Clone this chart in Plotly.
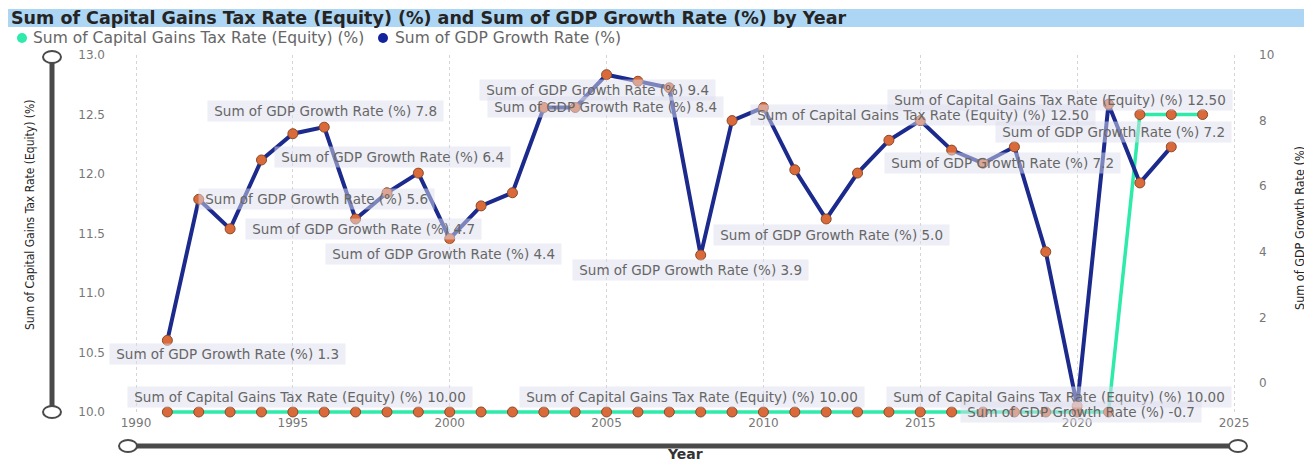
import plotly.graph_objects as go

# ---------------- data ----------------
years_gdp = list(range(1991, 2024))
gdp_growth = [1.3, 5.6, 4.7, 6.8, 7.6, 7.8, 5.0, 5.8, 6.4, 4.4,
              5.4, 5.8, 8.4, 8.4, 9.4, 9.2, 9.0, 3.9, 8.0, 8.4,
              6.5, 5.0, 6.4, 7.4, 8.0, 7.1, 6.7, 7.2, 4.0, -0.7,
              8.5, 6.1, 7.2]
years_cg = list(range(1991, 2025))
cg_tax = [10.0] * 31 + [12.5, 12.5, 12.5]

# label specs: (series, year, dx, dy)  -- dx/dy are pixel offsets (style)
label_specs = [
    ("gdp", 1996, 1, 16), ("gdp", 1999, -26, 16), ("gdp", 1992, 118, 0),
    ("gdp", 1993, 133, 0), ("gdp", 2000, -6, -15), ("gdp", 1991, 60, -14),
    ("gdp", 2005, -9, -15), ("gdp", 2004, 30, 0), ("gdp", 2008, -10, -15),
    ("gdp", 2012, 5, -16), ("cg", 2022, -217, 0), ("cg", 2023, -111, 15),
    ("gdp", 2023, -58, 15), ("gdp", 2018, -12, -16), ("cg", 1991, 133, 15),
    ("cg", 2008, -9, 15), ("cg", 2020, -18, 15), ("gdp", 2020, 4, -6),
]

CG_NAME = "Sum of Capital Gains Tax Rate (Equity) (%)"
GDP_NAME = "Sum of GDP Growth Rate (%)"

# ---------------- geometry (reference-page pixels) ----------------
OFF = 8                     # html body margin
W, H = 1312 - OFF, 461 - OFF
L, R, T, B = 120, 1250, 55, 414
def px(xp):
    return (xp - L) / (R - L)
def py(yp):
    return (B - yp) / (B - T)

FONT = "DejaVu Sans, Verdana, sans-serif"
NARROW = "Liberation Sans Narrow, Arial Narrow, DejaVu Sans Condensed, sans-serif"

fig = go.Figure()

marker = dict(size=10, color="#DA6A3A", line=dict(color="#8A4A2A", width=1))

fig.add_trace(go.Scatter(
    x=years_gdp, y=gdp_growth, yaxis="y2", mode="lines+markers",
    line=dict(color="#1B2A8C", width=4), marker=marker, cliponaxis=False,
    name=GDP_NAME, showlegend=False, hoverinfo="x+y"))
fig.add_trace(go.Scatter(
    x=years_cg, y=cg_tax, yaxis="y", mode="lines+markers",
    line=dict(color="#2EEBAA", width=3.5), marker=marker, cliponaxis=False,
    name=CG_NAME, showlegend=False, hoverinfo="x+y"))

annotations = []
shapes = []

# custom legend (dots + text)
for cx, tx, col, name in [(22, 31, "#2EEBAA", CG_NAME), (383, 393, "#13239E", GDP_NAME)]:
    shapes.append(dict(type="circle", xref="paper", yref="paper",
                       x0=px(cx - 5), x1=px(cx + 5), y0=py(38 + 5), y1=py(38 - 5),
                       fillcolor=col, line=dict(width=0)))
    annotations.append(dict(x=px(tx), y=py(38), xref="paper", yref="paper",
                            xanchor="left", yanchor="middle", text=name, showarrow=False,
                            font=dict(family=FONT, size=15.5, color="#666666")))

# data labels
gdp_map = dict(zip(years_gdp, gdp_growth))
cg_map = dict(zip(years_cg, cg_tax))
NB = "\u00a0"
for series, yr, dx, dy in label_specs:
    if series == "gdp":
        val = gdp_map[yr]
        txt = f"{GDP_NAME} {val:.1f}"
        yref = "y2"
    else:
        val = cg_map[yr]
        txt = f"{CG_NAME} {val:.2f}"
        yref = "y"
    annotations.append(dict(
        x=yr, y=val, xref="x", yref=yref, text=NB + txt + NB, showarrow=False,
        xshift=dx, yshift=dy, bgcolor="rgba(222,222,238,0.5)",
        borderpad=2, font=dict(family=FONT, size=13.5, color="#666666")))

# title
annotations.append(dict(
    x=px(9), y=py(18), xref="paper", yref="paper", xanchor="left", yanchor="middle",
    text="<b>Sum of Capital Gains Tax Rate (Equity) (%) and Sum of GDP Growth Rate (%) by Year</b>",
    showarrow=False, font=dict(family=FONT, size=17.5, color="#252423")))
# axis titles
annotations.append(dict(
    x=px(30), y=py(215), xref="paper", yref="paper", xanchor="center", yanchor="middle",
    text=CG_NAME, textangle=-90, showarrow=False,
    font=dict(family=NARROW, size=12, color="#252423")))
annotations.append(dict(
    x=px(1299), y=py(228), xref="paper", yref="paper", xanchor="center", yanchor="middle",
    text=GDP_NAME, textangle=-90, showarrow=False,
    font=dict(family=NARROW, size=12.5, color="#252423")))
annotations.append(dict(
    x=px(685), y=py(454), xref="paper", yref="paper", xanchor="center", yanchor="middle",
    text="<b>Year</b>", showarrow=False,
    font=dict(family=FONT, size=14, color="#333333")))

# decorative shapes (title bar, zoom sliders)
shapes += [
    dict(type="rect", xref="paper", yref="paper", x0=px(8), x1=px(1305), y0=py(27), y1=py(9),
         fillcolor="#ADD6F5", line=dict(width=0), layer="below"),
    dict(type="line", xref="paper", yref="paper", x0=px(52), x1=px(52), y0=py(57), y1=py(412),
         line=dict(color="#4A4A4A", width=5)),
    dict(type="line", xref="paper", yref="paper", x0=px(128), x1=px(1238), y0=py(446), y1=py(446),
         line=dict(color="#4A4A4A", width=5)),
]
for cx, cy in [(52, 57), (52, 412), (128, 446), (1238, 446)]:
    shapes.append(dict(type="circle", xref="paper", yref="paper",
                       x0=px(cx - 9), x1=px(cx + 9), y0=py(cy + 6), y1=py(cy - 6),
                       fillcolor="white", line=dict(color="#4A4A4A", width=2)))

fig.update_layout(
    width=W, height=H,
    margin=dict(l=L - OFF, r=1312 - R, t=T - OFF, b=461 - B),
    paper_bgcolor="white", plot_bgcolor="white",
    font=dict(family=FONT, size=12, color="#777777"),
    showlegend=False,
    xaxis=dict(range=[1989.49, 2025.51], tickmode="linear", tick0=1990, dtick=5,
               showgrid=True, gridcolor="#D5D5D5", griddash="dot", gridwidth=1,
               zeroline=False, showline=False, ticks="",
               tickfont=dict(family=FONT, size=12, color="#777777")),
    yaxis=dict(range=[9.983, 13], tickmode="linear", tick0=10, dtick=0.5, tickformat=".1f",
               showgrid=False, zeroline=False, showline=False, ticks="",
               ticklabelstandoff=14,
               tickfont=dict(family=FONT, size=12, color="#777777")),
    yaxis2=dict(range=[-0.945, 10], overlaying="y", side="right", tickmode="linear",
                tick0=0, dtick=2, showgrid=False, zeroline=False, showline=False, ticks="",
                ticklabelstandoff=8,
                tickfont=dict(family=FONT, size=12, color="#777777")),
    annotations=annotations,
    shapes=shapes,
)

fig.write_html("out.html")
